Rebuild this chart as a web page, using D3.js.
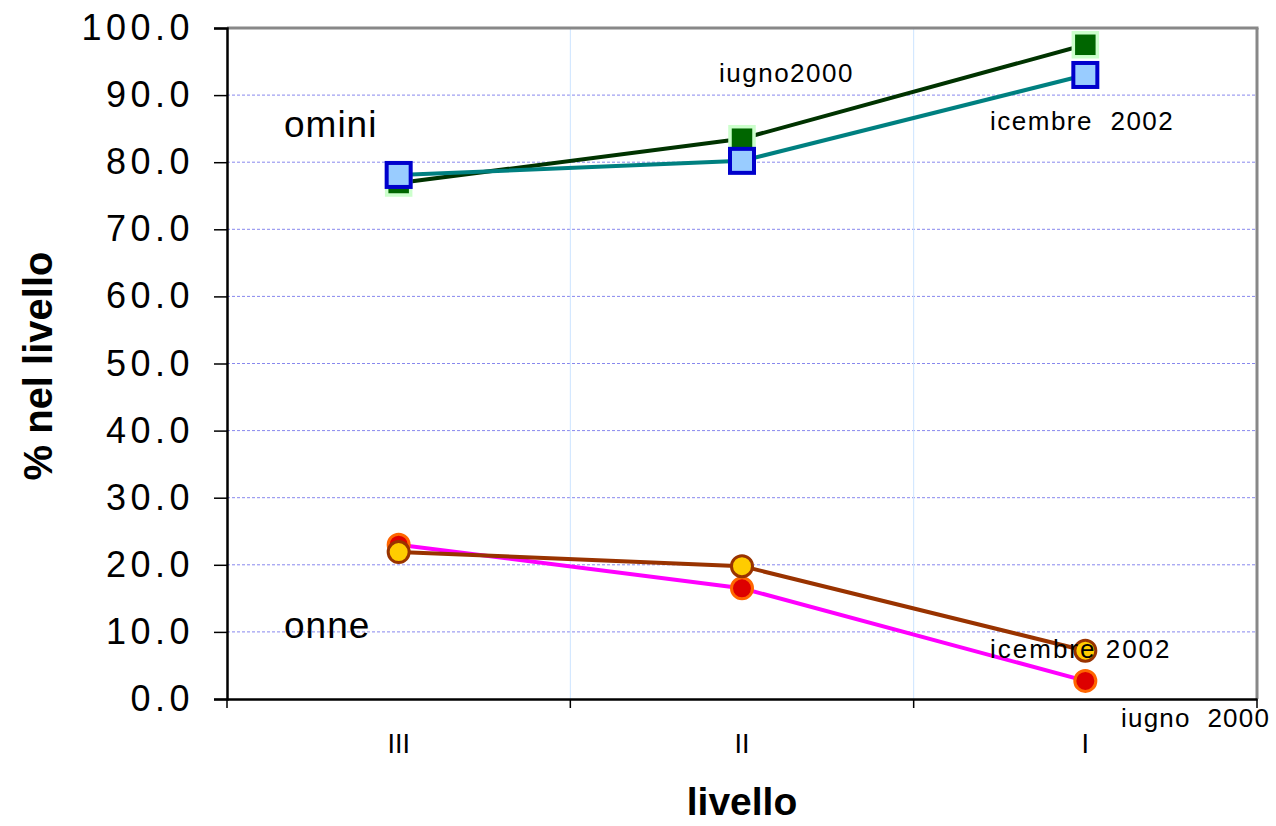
<!DOCTYPE html>
<html><head><meta charset="utf-8">
<script src="https://cdn.jsdelivr.net/npm/d3@7"></script>
<style>body{margin:0;background:#fff}svg{display:block;font-family:Arial,"Liberation Sans",sans-serif}</style>
</head><body><svg id="c" width="1276" height="826"></svg>
<script>
const categories = ["III","II","I"];
const uominiGiugno2000 = [76.9, 83.5, 97.5];
const uominiDicembre2002 = [78.1, 80.2, 93.0];
const donneGiugno2000 = [23.0, 16.5, 2.7];
const donneDicembre2002 = [21.9, 19.8, 7.2];
const yTicks = [0,10,20,30,40,50,60,70,80,90,100];

const svg = d3.select("#c");
const L=227, R=1257, T=28, B=699;
const x = d3.scaleBand().domain(categories).range([L,R]).padding(0);
const y = d3.scaleLinear().domain([0,100]).range([B,T]);
const cx = c => x(c)+x.bandwidth()/2;

// horizontal grid
svg.append("g").selectAll("line").data(yTicks.filter(d=>d>0&&d<100)).join("line")
  .attr("x1",L).attr("x2",R).attr("y1",d=>y(d)).attr("y2",d=>y(d))
  .attr("stroke","#8888ee").attr("stroke-width",1).attr("stroke-dasharray","3,2");
// vertical grid
svg.append("g").selectAll("line").data(categories.slice(1)).join("line")
  .attr("x1",d=>x(d)).attr("x2",d=>x(d)).attr("y1",T).attr("y2",B)
  .attr("stroke","#cce4ff").attr("stroke-width",1);
// border top/right grey
svg.append("line").attr("x1",L).attr("x2",R+1.5).attr("y1",T).attr("y2",T).attr("stroke","#888").attr("stroke-width",3);
svg.append("line").attr("x1",R).attr("x2",R).attr("y1",T).attr("y2",B).attr("stroke","#888").attr("stroke-width",3);

// y axis
const yAxis = d3.axisLeft(y).tickValues(yTicks).tickSize(13).tickFormat(d3.format(".1f"));
const gy = svg.append("g").attr("transform",`translate(${L},0)`).call(yAxis);
gy.select(".domain").attr("stroke","#000").attr("stroke-width",2.5);
gy.selectAll(".tick line").attr("stroke","#000").attr("stroke-width",1.5);
gy.selectAll(".tick text").attr("x",-33).attr("font-size",36).attr("letter-spacing","4.5px").attr("fill","#000").attr("font-family","Arial, Liberation Sans, sans-serif");

// x axis
const xAxis = d3.axisBottom(x).tickSize(0).tickFormat("");
const gx = svg.append("g").attr("transform",`translate(0,${B})`).call(xAxis);
gx.select(".domain").attr("stroke","#000").attr("stroke-width",2.5);
const bounds = [...categories.map(c=>x(c)), R];
gx.append("g").selectAll("line").data(bounds).join("line")
  .attr("x1",d=>d).attr("x2",d=>d).attr("y1",0).attr("y2",9).attr("stroke","#000").attr("stroke-width",1.5);
svg.append("g").selectAll("text").data(categories).join("text")
  .attr("x",cx).attr("y",753).attr("text-anchor","middle").attr("font-size",27).text(d=>d);

// titles
svg.append("text").attr("x",742).attr("y",815).attr("text-anchor","middle").attr("font-size",39).attr("font-weight","bold").text("livello");
svg.append("text").attr("transform","translate(52,366) rotate(-90)").attr("text-anchor","middle").attr("font-size",40).attr("font-weight","bold").text("% nel livello");

const line = d3.line().x((d,i)=>cx(categories[i])).y(d=>y(d));
function series(data, lineColor, shape, fill, stroke, sw){
  svg.append("path").datum(data).attr("d",line).attr("fill","none").attr("stroke",lineColor).attr("stroke-width",4);
  const g = svg.append("g");
  if(shape==="square"){
    g.selectAll("rect").data(data).join("rect")
      .attr("x",(d,i)=>cx(categories[i])-12).attr("y",d=>y(d)-12).attr("width",24).attr("height",24)
      .attr("fill",fill).attr("stroke",stroke).attr("stroke-width",sw);
  } else {
    g.selectAll("circle").data(data).join("circle")
      .attr("cx",(d,i)=>cx(categories[i])).attr("cy",d=>y(d)).attr("r",10.5)
      .attr("fill",fill).attr("stroke",stroke).attr("stroke-width",3);
  }
}
series(uominiGiugno2000,"#003300","square","#006600","#ccffcc",3.5);
series(uominiDicembre2002,"#008080","square","#99ccff","#0000cc",4);
series(donneGiugno2000,"#ff00ff","circle","#dd0000","#ff6600");
series(donneDicembre2002,"#993300","circle","#ffcc00","#993300");

// annotations
const ann = [
  {t:"omini",x:284,y:137,s:37,ls:1},
  {t:"onne",x:284,y:638,s:37,ls:1},
  {t:"iugno2000",x:719,y:82,s:26,ls:1.5},
  {t:"icembre  2002",x:990,y:130,s:26,ls:1.5},
  {t:"icembre 2002",x:990,y:658,s:26,ls:2},
  {t:"iugno  2000",x:1121,y:727,s:26,ls:1.2}
];
svg.append("g").selectAll("text").data(ann).join("text")
  .attr("x",d=>d.x).attr("y",d=>d.y).attr("font-size",d=>d.s).attr("letter-spacing",d=>d.ls+"px")
  .attr("xml:space","preserve").style("white-space","pre").text(d=>d.t);
</script></body></html>
